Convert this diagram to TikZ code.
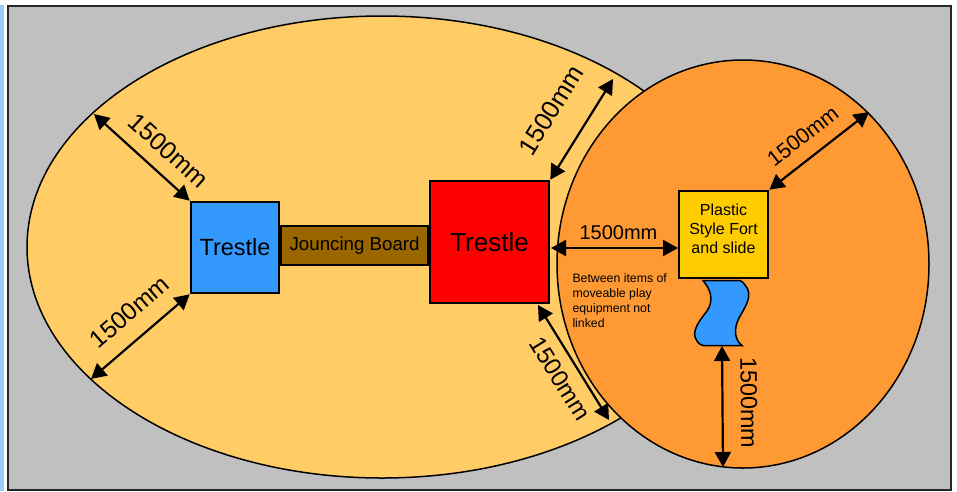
\documentclass[tikz,border=0pt]{standalone}
\usepackage{fontspec}
\setmainfont{Liberation Sans}
\usetikzlibrary{arrows.meta}
\usetikzlibrary{positioning}
\usetikzlibrary{shapes.geometric}
\definecolor{zonegrey}{HTML}{C0C0C0}
\definecolor{zoneyellow}{HTML}{FFCC66}
\definecolor{zoneorange}{HTML}{FF9933}
\definecolor{itemblue}{HTML}{3399FF}
\definecolor{itembrown}{HTML}{996600}
\definecolor{itemgold}{HTML}{FFCC00}
\definecolor{edgeblue}{HTML}{99CCFF}
\tikzset{
	zone/.style = {ellipse, draw, line width=1.5pt, inner sep=0pt},
	item/.style = {rectangle, draw, line width=2.6pt, inner sep=0pt, align=center},
	gap/.style = {<->, line width=2.2pt},
	gaptext/.style = {sloped, inner sep=0pt}
}

\begin{document}
\begin{tikzpicture}[x=1pt, y=-1pt, >={Triangle[length=15pt, width=16pt]}, node distance=1pt]
	\useasboundingbox (0,0) rectangle (957,491);

	\fill [edgeblue] (0,5) rectangle (3.5,491);
	\node [rectangle, draw=black!85, fill=zonegrey, line width=2pt, minimum width=943pt, minimum height=484pt, inner sep=0pt] (ground) at (479.5,247.5) {};

	\node [zone, fill=zoneyellow, minimum width=710pt, minimum height=462pt] (yard) at (382,247) {};
	\node [zone, fill=zoneorange, minimum width=372pt, minimum height=408pt] (fort_zone) at (743,264) {};

	\node [item, fill=itemblue, minimum width=88pt, minimum height=91pt, font=\fontsize{23.5}{26}\selectfont] (trestle_a) at (235,247.5) {Trestle};
	\node [item, fill=itembrown, minimum width=148pt, minimum height=39pt, font=\fontsize{18.7}{21}\selectfont] (board) [right=-1pt of trestle_a, yshift=2pt] {Jouncing Board};
	\node [item, fill=red, minimum width=119pt, minimum height=122pt, font=\fontsize{26}{28}\selectfont] (trestle_b) at (489.5,242) {Trestle};
	\node [item, fill=itemgold, minimum width=89pt, minimum height=87pt, font=\fontsize{16}{19}\selectfont] (fort) at (723.5,234.5) {Plastic\\Style Fort\\and slide\\[-8pt]\mbox{}};

	% slide below the fort
	\draw [fill=itemblue, line width=1.5pt] (703,280.5) .. controls (711,290) and (714,300) .. (707,311)
		.. controls (700,320) and (690,332) .. (697,341) .. controls (699,344) and (701,345) .. (703,345.5)
		-- (742,345.5) .. controls (735,340) and (733,330) .. (739,318) .. controls (745,307) and (754,295) .. (745,285)
		.. controls (743,282) and (741,281) .. (740,280.5) -- cycle;

	\coordinate (yard_nw) at (94,114);
	\coordinate (yard_sw) at (91,379);
	\coordinate (yard_ne) at (613,79);
	\coordinate (yard_se) at (609,420);
	\coordinate (zone_ne) at (869,112);
	\coordinate (zone_s) at (723,467);
	\coordinate (trestle_se) at (538,305);
	\coordinate (slide_s) at (722,346);
	\coordinate (trestle_e) at (551,248);
	\coordinate (fort_w) at (678,248);

	\path [gap] (yard_nw) edge node [gaptext, pos=0.62, above=13pt, font=\fontsize{25}{30}\selectfont] {1500mm} (trestle_a.north west)
		(yard_sw) edge node [gaptext, pos=0.56, above=16pt, font=\fontsize{24.5}{30}\selectfont] {1500mm} (trestle_a.south west)
		(yard_ne) edge node [gaptext, above=26pt, font=\fontsize{25.5}{30}\selectfont] {1500mm} (trestle_b.north east)
		(trestle_se) edge node [gaptext, pos=0.55, below=10pt, font=\fontsize{24}{30}\selectfont] {1500mm} (yard_se)
		(zone_ne) edge node [gaptext, pos=0.53, above=13pt, font=\fontsize{21.5}{26}\selectfont] {1500mm} (fort.north east)
		(slide_s) edge node [gaptext, pos=0.47, above=17pt, font=\fontsize{23.5}{28}\selectfont] {1500mm} (zone_s)
		(trestle_e) edge node [above=7pt, inner sep=0pt, xshift=4pt, font=\fontsize{20}{22}\selectfont] {1500mm} (fort_w);

	\node [align=left, inner sep=0pt, font=\fontsize{12.3}{15}\selectfont, below right=31pt and 22pt of trestle_b.east] (note) {Between items of\\moveable play\\equipment not\\linked};
\end{tikzpicture}
\end{document}
